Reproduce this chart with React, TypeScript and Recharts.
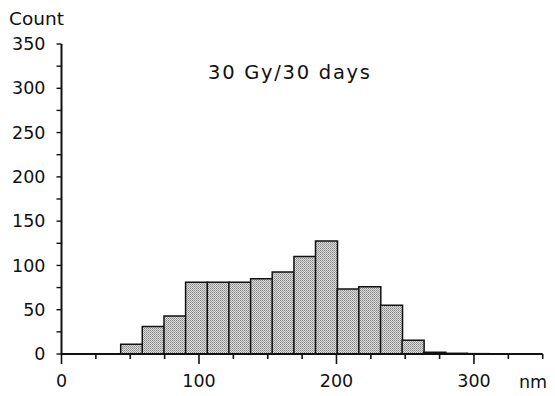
import { Bar, BarChart, XAxis, YAxis } from "recharts";

// bin centres (nm) and counts
const BIN_CENTERS = [50.9, 66.6, 82.4, 98.1, 113.9, 129.6, 145.4, 161.1, 176.9, 192.6, 208.4, 224.1, 239.9, 255.6, 271.4, 287.1, 302.9];
const COUNTS = [11, 31, 43, 81, 81, 81, 85, 92.5, 110, 127.5, 73.5, 76, 55, 15.5, 2, 0.8, 0.4];

const X_TICKS = [0, 25, 50, 75, 100, 125, 150, 175, 200, 225, 250, 275, 300, 325, 350];
const X_LABELS = [0, 100, 200, 300];
const Y_TICKS = [0, 25, 50, 75, 100, 125, 150, 175, 200, 225, 250, 275, 300, 325, 350];
const Y_LABELS = [0, 50, 100, 150, 200, 250, 300, 350];

const TITLE = "30 Gy/30 days";
const FONT = "'DejaVu Sans', sans-serif";
const INK = "#111";

const data = BIN_CENTERS.map((nm, i) => ({ nm, count: COUNTS[i] }));

function XTick(props: any) {
  const { x, y, payload } = props;
  const major = X_LABELS.includes(payload.value);
  return (
    <g>
      <line x1={x} x2={x} y1={y} y2={y + (major ? 10 : 5)} stroke={INK} strokeWidth={1.6} />
      {major && (
        <text x={x} y={y + 27} dy="0.355em" textAnchor="middle" fontFamily={FONT} fontSize={17.5} fill={INK}>
          {payload.value}
        </text>
      )}
    </g>
  );
}

function YTick(props: any) {
  const { x, y, payload } = props;
  if (!Y_LABELS.includes(payload.value)) return <g />;
  return (
    <text x={x} y={y} dy="0.355em" textAnchor="end" fontFamily={FONT} fontSize={17.5} fill={INK}>
      {payload.value}
    </text>
  );
}

export default function App() {
  return (
    <div style={{ position: "absolute", left: 0, top: 0, width: 555, height: 396, background: "#fff" }}>
      <svg width={0} height={0} style={{ position: "absolute" }}>
        <defs>
          <pattern id="stipple" width={2} height={2} patternUnits="userSpaceOnUse">
            <rect width={2} height={2} fill="#dedede" />
            <rect width={1} height={1} fill="#858585" />
            <rect x={1} y={1} width={1} height={1} fill="#a0a0a0" />
          </pattern>
        </defs>
      </svg>
      <BarChart
        width={555}
        height={396}
        data={data}
        margin={{ top: 44, right: 12.3, bottom: 0, left: 0 }}
        barCategoryGap={0}
        barGap={0}
      >
        <XAxis
          dataKey="nm"
          type="number"
          domain={[0, 350]}
          ticks={X_TICKS}
          interval={0}
          height={42}
          tickSize={0}
          tickMargin={0}
          tickLine={false}
          tick={<XTick />}
          axisLine={{ stroke: INK, strokeWidth: 2 }}
          allowDataOverflow
        />
        <YAxis
          type="number"
          domain={[0, 350]}
          ticks={Y_TICKS}
          interval={0}
          width={61.5}
          tickSize={5}
          tickMargin={11}
          tick={<YTick />}
          tickLine={{ stroke: INK, strokeWidth: 1.4 }}
          axisLine={{ stroke: INK, strokeWidth: 2 }}
        />
        <Bar dataKey="count" fill="url(#stipple)" stroke={INK} strokeWidth={1.5} isAnimationActive={false} />
      </BarChart>
      <svg width={555} height={396} style={{ position: "absolute", left: 0, top: 0, pointerEvents: "none" }}>
        <text x={9} y={25} fontFamily={FONT} fontSize={18.5} fill={INK}>Count</text>
        <text x={208} y={79} fontFamily={FONT} fontSize={19.5} fill={INK} textLength={162} lengthAdjust="spacing">
          {TITLE}
        </text>
        <text x={519} y={388} fontFamily={FONT} fontSize={17.5} fill={INK}>nm</text>
      </svg>
    </div>
  );
}
